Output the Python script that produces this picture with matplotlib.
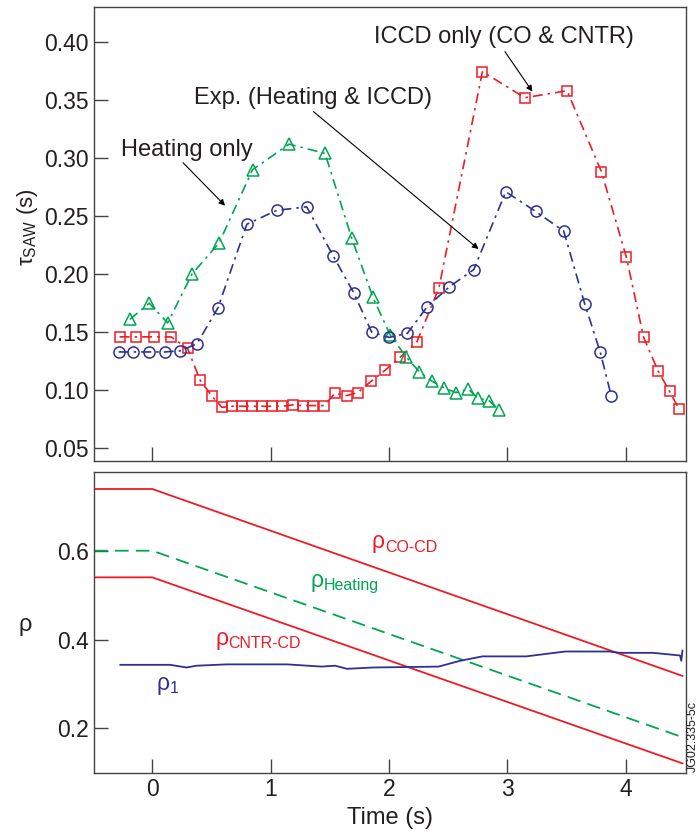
import matplotlib
matplotlib.use("Agg")
import matplotlib.pyplot as plt

plt.rcParams['font.family'] = ['Liberation Sans', 'DejaVu Sans']
plt.rcParams['mathtext.fontset'] = 'custom'
plt.rcParams['mathtext.rm'] = 'Liberation Sans'
plt.rcParams['mathtext.it'] = 'Liberation Sans:italic'

RED = '#ed1c24'
BLUE = '#2e3192'
GREEN = '#00a651'
INK = '#231f20'

# top panel: sawtooth period vs time
heat_t = [-0.19, -0.025, 0.13, 0.335, 0.565, 0.847, 1.156, 1.46, 1.685, 1.865,
          2.008, 2.143, 2.256, 2.36, 2.467, 2.565, 2.67, 2.754, 2.846, 2.931]
heat_tau = [0.161, 0.175, 0.158, 0.200, 0.227, 0.290, 0.312, 0.304, 0.231, 0.180,
            0.148, 0.129, 0.116, 0.108, 0.102, 0.098, 0.101, 0.093, 0.091, 0.083]

exp_t = [-0.284, -0.163, -0.031, 0.11, 0.236, 0.377, 0.555, 0.799, 1.052, 1.305,
         1.527, 1.702, 1.854, 2.003, 2.155, 2.323, 2.509, 2.717, 2.987, 3.24,
         3.477, 3.654, 3.786, 3.879]
exp_tau = [0.133, 0.133, 0.133, 0.133, 0.134, 0.140, 0.171, 0.243, 0.255, 0.258,
           0.216, 0.184, 0.150, 0.1455, 0.149, 0.172, 0.189, 0.204, 0.271, 0.254,
           0.237, 0.1745, 0.1326, 0.095]

iccd_t = [-0.276, -0.135, 0.017, 0.158, 0.298, 0.405, 0.504, 0.588, 0.672, 0.757,
          0.841, 0.925, 1.01, 1.094, 1.187, 1.27, 1.36, 1.45, 1.545, 1.643,
          1.738, 1.848, 1.966, 2.093, 2.234, 2.422, 2.79, 3.148, 3.505, 3.795,
          4.006, 4.152, 4.273, 4.371, 4.45]
iccd_tau = [0.146, 0.146, 0.146, 0.146, 0.136, 0.1085, 0.095, 0.0853, 0.0862, 0.0862,
            0.0862, 0.0862, 0.0862, 0.0862, 0.0874, 0.0868, 0.0868, 0.0868, 0.0974, 0.0954,
            0.098, 0.1077, 0.1171, 0.1283, 0.1412, 0.188, 0.3745, 0.352, 0.358, 0.2884,
            0.2147, 0.1455, 0.1169, 0.0991, 0.0839]

# bottom panel: deposition radii and q=1 radius
rho_t = [-0.49, 0.0, 4.48]
rho_co = [0.739, 0.739, 0.318]
rho_heat = [0.600, 0.600, 0.180]
rho_cntr = [0.540, 0.540, 0.121]

rho1_t = [-0.27, 0.15, 0.29, 0.375, 0.63, 1.14, 1.43, 1.545, 1.645, 1.87, 2.42,
          2.6, 2.79, 3.16, 3.49, 3.86, 3.95, 4.23, 4.46, 4.47, 4.48]
rho1 = [0.343, 0.343, 0.337, 0.341, 0.344, 0.344, 0.339, 0.341, 0.334, 0.337, 0.339,
        0.352, 0.362, 0.362, 0.373, 0.373, 0.370, 0.370, 0.364, 0.352, 0.375]

fig = plt.figure(figsize=(6.98, 8.36), dpi=100)
ax1 = fig.add_axes([0.1351, 0.4489, 0.8477, 0.5431])
ax2 = fig.add_axes([0.1351, 0.0757, 0.8477, 0.3601])

dashdot = (0, (6, 3, 1.5, 3))
mk = dict(markerfacecolor='none', markeredgewidth=1.1, lw=1.2, linestyle=dashdot)
ax1.plot(iccd_t, iccd_tau, color=RED, marker='s', markersize=6.5, **mk)
ax1.plot(heat_t, heat_tau, color=GREEN, marker='^', markersize=8, **mk)
ax1.plot(exp_t, exp_tau, color=BLUE, marker='o', markersize=8, **mk)

ax1.set_xlim(-0.49, 4.51)
ax1.set_ylim(0.0393, 0.4304)
ax1.set_yticks([0.05, 0.10, 0.15, 0.20, 0.25, 0.30, 0.35, 0.40])
ax1.set_yticklabels(['0.05', '0.10', '0.15', '0.20', '0.25', '0.30', '0.35', '0.40'])
ax1.set_xticks([0, 1, 2, 3, 4])
ax1.set_xticklabels([])

arrow = dict(arrowstyle='-|>', color='black', lw=0.8, mutation_scale=9,
             shrinkA=0, shrinkB=0)
ax1.text(0.29, 0.307, 'Heating only', fontsize=17, color=INK, ha='center', va='center')
ax1.annotate('', xy=(0.615, 0.259), xytext=(0.26, 0.296), arrowprops=arrow)
ax1.text(1.355, 0.3518, 'Exp. (Heating & ICCD)', fontsize=17, color=INK,
         ha='center', va='center')
ax1.annotate('', xy=(2.757, 0.2216), xytext=(1.362, 0.340), arrowprops=arrow)
ax1.text(2.973, 0.4046, 'ICCD only (CO & CNTR)', fontsize=17, color=INK,
         ha='center', va='center')
ax1.annotate('', xy=(3.212, 0.3572), xytext=(2.98, 0.3917), arrowprops=arrow)

ax2.plot(rho_t, rho_co, color=RED, lw=1.3)
ax2.plot(rho_t, rho_cntr, color=RED, lw=1.3)
ax2.plot(rho_t, rho_heat, color=GREEN, lw=1.3, linestyle=(0, (7.5, 4)))
ax2.plot(rho1_t, rho1, color=BLUE, lw=1.3)

ax2.set_xlim(-0.49, 4.51)
ax2.set_ylim(0.1, 0.778)
ax2.set_yticks([0.2, 0.4, 0.6])
ax2.set_yticklabels(['0.2', '0.4', '0.6'])
ax2.set_xticks([0, 1, 2, 3, 4])
ax2.set_xlabel('Time (s)', fontsize=17, color=INK, labelpad=4)


def rho_label(ax, x, y, sub, color):
    ax.text(x, y, 'ρ', fontsize=16.5, color=color, ha='left', va='baseline')
    ax.annotate(sub, xy=(x, y), xytext=(9.5, -2.5), textcoords='offset points',
                fontsize=11.5, color=color, ha='left', va='baseline')


rho_label(ax2, 1.855, 0.606, 'CO-CD', RED)
rho_label(ax2, 1.339, 0.519, 'Heating', GREEN)
rho_label(ax2, 0.53, 0.3876, 'CNTR-CD', RED)
rho_label(ax2, 0.037, 0.2863, '1', BLUE)

for ax in (ax1, ax2):
    for sp in ax.spines.values():
        sp.set_color('#444444')
        sp.set_linewidth(1.0)
    ax.tick_params(direction='in', length=10, width=1.0, color='#444444',
                   labelsize=16.5, labelcolor=INK, pad=4, top=False, right=False)

fig.text(28 / 698, 1 - 227 / 836, r'$\mathrm{τ_{SAW}}$ (s)', fontsize=16, color=INK,
         rotation=90, ha='center', va='center')
fig.text(25 / 698, 1 - 625 / 836, 'ρ', fontsize=17, color=INK,
         ha='center', va='center')
fig.text(687 / 698, 1 - 772 / 836, 'JG02.335-5c', fontsize=9, color=INK,
         rotation=90, ha='left', va='bottom')

fig.savefig('out.png', dpi=100)
